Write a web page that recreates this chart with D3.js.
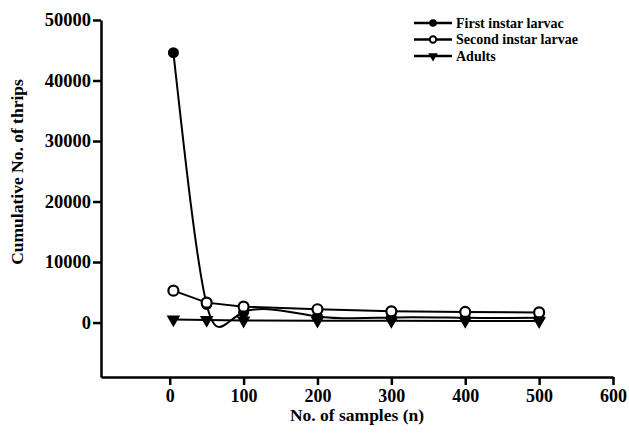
<!DOCTYPE html>
<html>
<head>
<meta charset="utf-8">
<script src="https://cdn.jsdelivr.net/npm/d3@7"></script>
<style>
  body { margin: 0; background: #fff; }
  svg text { font-family: "Liberation Serif", "Times New Roman", Times, "DejaVu Serif", serif; font-weight: bold; fill: #000; }
</style>
</head>
<body>
<svg></svg>
<script>
const w = 629
const h = 436

// sample sizes (n)
const samples = [5, 50, 100, 200, 300, 400, 500]
// cumulative number of thrips per stage
const firstInstar = [44600, 3000, 1700, 1000, 850, 800, 780]
const secondInstar = [5270, 3290, 2630, 2200, 1850, 1750, 1680]
const adults = [520, 420, 330, 300, 280, 260, 250]

const xTicks = [0, 100, 200, 300, 400, 500, 600]
const yTicks = [0, 10000, 20000, 30000, 40000, 50000]

const seriesNames = ['First instar larvac', 'Second instar larvae', 'Adults']

const svg = d3.select('svg').attr('width', w).attr('height', h)

const x = d3.scaleLinear().domain([-93, 600]).range([101, 613])
const y = d3.scaleLinear().domain([-9000, 50000]).range([377, 20])

const xAxis = d3.axisBottom(x).tickValues(xTicks).tickFormat(d3.format('d'))
  .tickSize(8).tickSizeOuter(0).tickPadding(4)
const yAxis = d3.axisLeft(y).tickValues(yTicks).tickFormat(d3.format('d'))
  .tickSize(8).tickSizeOuter(0).tickPadding(2)

const gx = svg.append('g')
  .attr('transform', `translate(0, ${y.range()[0]})`)
  .call(xAxis)
const gy = svg.append('g')
  .attr('transform', `translate(${x.range()[0]}, 0)`)
  .call(yAxis)

for (const g of [gx, gy]) {
  g.attr('font-family', null).attr('font-size', 18)
  g.select('.domain').attr('stroke-width', 2.5)
  g.selectAll('.tick line').attr('stroke-width', 2.5)
}
gy.attr('font-size', 18.5)

svg.append('text')
  .attr('x', (x.range()[0] + x.range()[1]) / 2)
  .attr('y', 421)
  .attr('text-anchor', 'middle')
  .attr('font-size', 17.5)
  .text('No. of samples (n)')

svg.append('text')
  .attr('transform', 'translate(23, 172) rotate(-90)')
  .attr('text-anchor', 'middle')
  .attr('font-size', 17.5)
  .text('Cumulative No. of thrips')

const pts = vals => samples.map((s, i) => [x(s), y(vals[i])])

svg.append('path')
  .attr('d', d3.line().curve(d3.curveNatural)(pts(firstInstar)))
  .attr('fill', 'none').attr('stroke', '#000').attr('stroke-width', 2)
svg.append('path')
  .attr('d', d3.line()(pts(secondInstar)))
  .attr('fill', 'none').attr('stroke', '#000').attr('stroke-width', 2)
svg.append('path')
  .attr('d', d3.line()(pts(adults)))
  .attr('fill', 'none').attr('stroke', '#000').attr('stroke-width', 2)

const tri = d3.symbol().type(d3.symbolTriangle)

svg.append('g').selectAll('circle')
  .data(pts(firstInstar))
  .enter()
  .append('circle')
  .attr('cx', d => d[0]).attr('cy', d => d[1]).attr('r', 5.5)
  .attr('fill', '#000')

svg.append('g').selectAll('circle')
  .data(pts(secondInstar))
  .enter()
  .append('circle')
  .attr('cx', d => d[0]).attr('cy', d => d[1]).attr('r', 5)
  .attr('fill', '#fff').attr('stroke', '#000').attr('stroke-width', 2.2)

svg.append('g').selectAll('path')
  .data(pts(adults))
  .enter()
  .append('path')
  .attr('d', tri.size(80)())
  .attr('transform', d => `translate(${d[0]}, ${d[1]}) rotate(180)`)
  .attr('fill', '#000')

// legend
const legend = svg.append('g')
seriesNames.forEach((name, i) => {
  const ly = 23 + i * 16.5
  legend.append('line')
    .attr('x1', 414).attr('x2', 452).attr('y1', ly).attr('y2', ly)
    .attr('stroke', '#000').attr('stroke-width', 2.5)
  if (i === 0) {
    legend.append('circle').attr('cx', 433).attr('cy', ly).attr('r', 3.8).attr('fill', '#000')
  } else if (i === 1) {
    legend.append('circle').attr('cx', 433).attr('cy', ly).attr('r', 3.2)
      .attr('fill', '#fff').attr('stroke', '#000').attr('stroke-width', 2)
  } else {
    legend.append('path').attr('d', tri.size(40)())
      .attr('transform', `translate(433, ${ly}) rotate(180)`).attr('fill', '#000')
  }
  legend.append('text')
    .attr('x', 456).attr('y', ly + 4.5)
    .attr('font-size', 14)
    .text(name)
})
</script>
</body>
</html>
